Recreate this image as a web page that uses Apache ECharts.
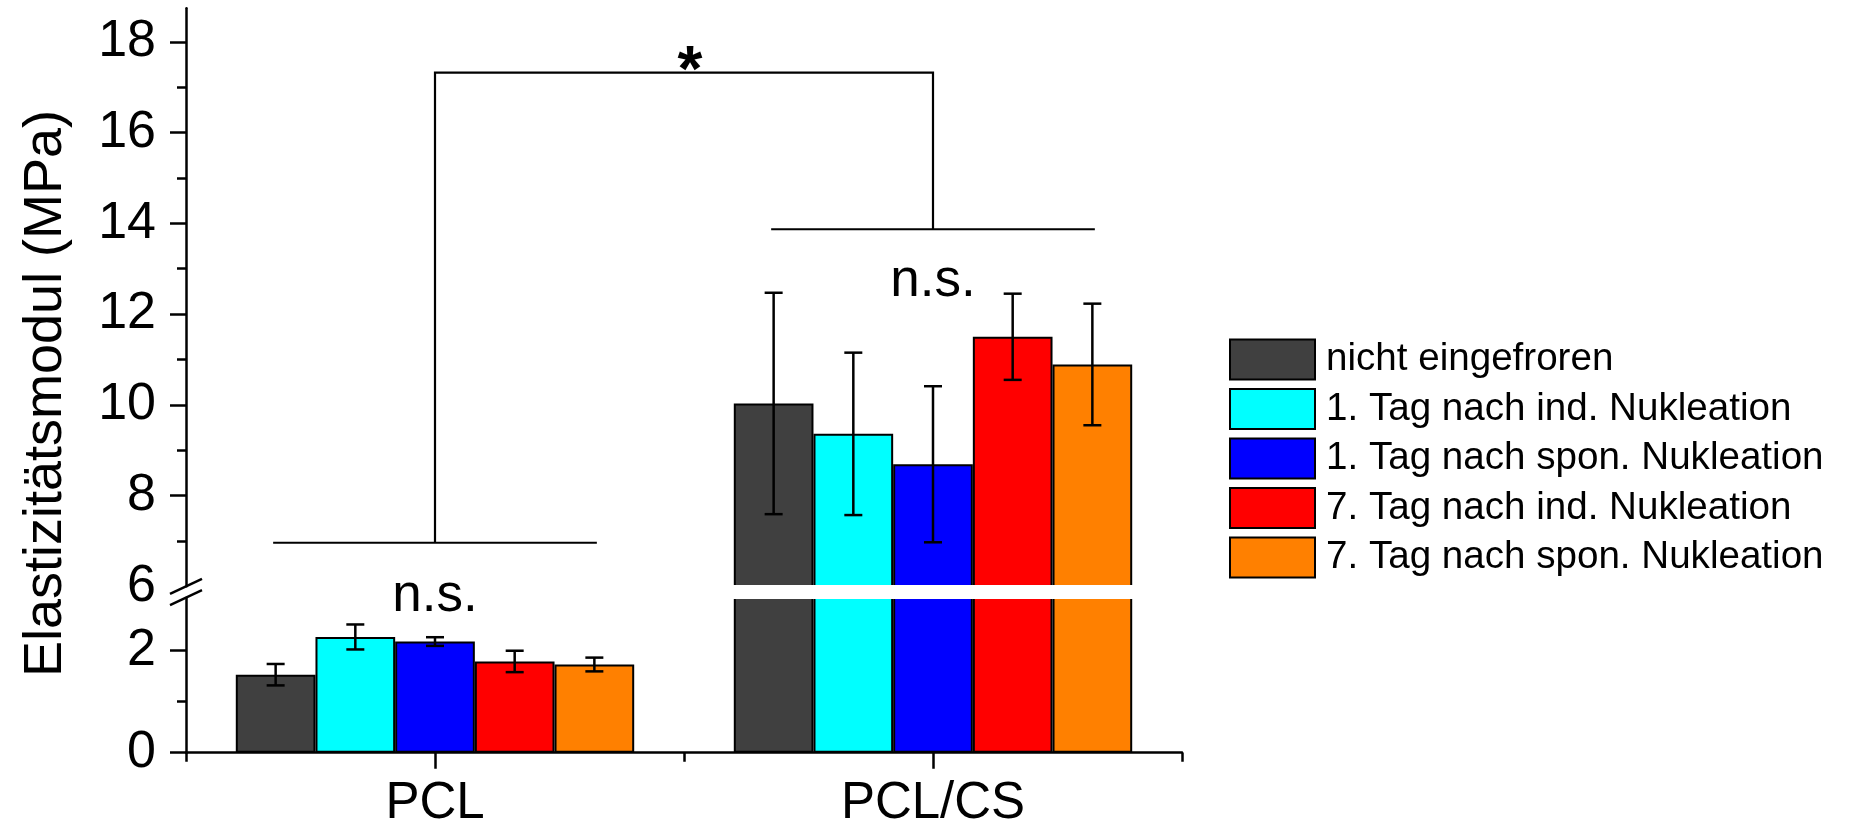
<!DOCTYPE html>
<html lang="de">
<head>
<meta charset="UTF-8">
<title>Elastizitätsmodul</title>
<script src="https://cdn.jsdelivr.net/npm/echarts@6/dist/echarts.min.js"></script>
<style>
  html, body { margin: 0; padding: 0; background: #fff; }
  #main { width: 1856px; height: 824px; }
</style>
</head>
<body>
<div id="main"></div>
<script>
// Kategorien und Gruppen
var categories = ['PCL', 'PCL/CS'];
var groupNames = ['nicht eingefroren', '1. Tag nach ind. Nukleation', '1. Tag nach spon. Nukleation',
                  '7. Tag nach ind. Nukleation', '7. Tag nach spon. Nukleation'];
var colors = ['#404040', '#00ffff', '#0000ff', '#ff0000', '#ff8000'];

// Mittelwerte (MPa), je [PCL, PCL/CS]
var meanNicht    = [1.53, 10.03];
var meanTag1Ind  = [2.27, 9.36];
var meanTag1Spon = [2.18, 8.69];
var meanTag7Ind  = [1.79, 11.50];
var meanTag7Spon = [1.73, 10.89];

// Standardabweichungen
var sdNicht    = [0.21, 2.44];
var sdTag1Ind  = [0.245, 1.79];
var sdTag1Spon = [0.085, 1.72];
var sdTag7Ind  = [0.21, 0.95];
var sdTag7Spon = [0.135, 1.34];

// Achsen (unterbrochen)
var upperTicks = [6, 8, 10, 12, 14, 16, 18];
var upperMajorTicks = [8, 10, 12, 14, 16, 18];
var upperMinor = [7, 9, 11, 13, 15, 17];
var lowerTicks = [0, 2];
var lowerMinor = [1];
var upperMin = 6, upperMax = 18.74;
var lowerMin = 0, lowerMax = 3.04;

// Signifikanzklammern (Werte auf der oberen Achse)
var bracketPCL = 6.96;
var bracketPCLCS = 13.87;
var bracketTop = 17.32;
var nsPCL = 3.06;       // untere Achse
var nsPCLCS = 12.72;    // obere Achse

var FONT = '"Liberation Sans", Arial, sans-serif';
var means = [meanNicht, meanTag1Ind, meanTag1Spon, meanTag7Ind, meanTag7Spon];
var sds = [sdNicht, sdTag1Ind, sdTag1Spon, sdTag7Ind, sdTag7Spon];

var chart = echarts.init(document.getElementById('main'));

function renderErr(params, api) {
  var c = api.value(0), s = api.value(1), lo = api.value(2), hi = api.value(3);
  var band = api.size([1, 0])[0];
  var bw = band * 0.8 / 5;
  var pLo = api.coord([c, lo]), pHi = api.coord([c, hi]);
  var r = params.coordSys;
  if (pHi[1] < r.y - 1 || pLo[1] > r.y + r.height + 1) return null;
  var x = pLo[0] + (s - 2) * bw;
  var half = 9;
  var st = { stroke: '#000', lineWidth: 2.5 };
  return {
    type: 'group',
    children: [
      { type: 'line', shape: { x1: x, y1: pLo[1], x2: x, y2: pHi[1] }, style: st },
      { type: 'line', shape: { x1: x - half, y1: pLo[1], x2: x + half, y2: pLo[1] }, style: st },
      { type: 'line', shape: { x1: x - half, y1: pHi[1], x2: x + half, y2: pHi[1] }, style: st }
    ]
  };
}

var series = [];
[0, 1].forEach(function (g) {
  var xi = g === 0 ? 0 : 1;
  var yi = g === 0 ? 0 : 2;
  means.forEach(function (m, i) {
    series.push({
      name: groupNames[i],
      type: 'bar',
      xAxisIndex: xi,
      yAxisIndex: yi,
      data: m,
      barGap: '0%',
      barCategoryGap: '20%',
      clip: true,
      itemStyle: { color: colors[i], borderColor: '#000', borderWidth: 2 },
      emphasis: { disabled: true }
    });
  });
  var errData = [];
  means.forEach(function (m, i) {
    m.forEach(function (v, c) {
      errData.push([c, i, v - sds[i][c], v + sds[i][c]]);
    });
  });
  series.push({
    type: 'custom',
    xAxisIndex: xi,
    yAxisIndex: yi,
    renderItem: renderErr,
    encode: { x: 0, y: [2, 3] },
    data: errData,
    z: 10,
    silent: true
  });
});

var tickLine = { color: '#000', width: 2.5 };

var option = {
  animation: false,
  backgroundColor: '#fff',
  grid: [
    { left: 186, top: 8.3, width: 996, height: 578, containLabel: false, outerBoundsMode: 'none' },
    { left: 186, top: 597.7, width: 996, height: 155, containLabel: false, outerBoundsMode: 'none' }
  ],
  legend: {
    data: groupNames,
    orient: 'vertical',
    left: 1229,
    top: 338.5,
    padding: 0,
    itemWidth: 85,
    itemHeight: 40,
    itemGap: 7.5,
    icon: 'rect',
    selectedMode: false,
    itemStyle: { borderColor: '#000', borderWidth: 2 },
    textStyle: { color: '#000', fontSize: 38.6, fontFamily: FONT, padding: [2, 0, 0, 6] }
  },
  xAxis: [
    { gridIndex: 0, type: 'category', data: categories, show: false },
    {
      gridIndex: 1, type: 'category', data: categories, position: 'bottom',
      axisLine: { show: true, onZero: false, lineStyle: tickLine },
      axisTick: { show: true, alignWithLabel: true, length: 16, lineStyle: tickLine },
      axisLabel: { margin: 26, color: '#000', fontSize: 51, fontFamily: FONT },
      splitLine: { show: false }
    },
    {
      gridIndex: 1, type: 'category', data: categories, position: 'bottom',
      axisLine: { show: false },
      axisTick: { show: true, length: 9, lineStyle: tickLine },
      axisLabel: { show: false },
      splitLine: { show: false }
    }
  ],
  yAxis: [
    {
      gridIndex: 0, type: 'value', position: 'left', min: upperMin, max: upperMax,
      axisLine: { show: true, onZero: false, lineStyle: tickLine },
      axisTick: { show: true, customValues: upperMajorTicks, length: 16, lineStyle: tickLine },
      axisLabel: { customValues: upperTicks, margin: 30, color: '#000', fontSize: 52, fontFamily: FONT },
      splitLine: { show: false }
    },
    {
      gridIndex: 0, type: 'value', position: 'left', offset: 0, min: upperMin, max: upperMax,
      axisLine: { show: false },
      axisTick: { show: true, customValues: upperMinor, length: 9, lineStyle: tickLine },
      axisLabel: { show: false },
      splitLine: { show: false }
    },
    {
      gridIndex: 1, type: 'value', position: 'left', min: lowerMin, max: lowerMax,
      axisLine: { show: true, onZero: false, lineStyle: tickLine },
      axisTick: { show: true, customValues: lowerTicks, length: 16, lineStyle: tickLine },
      axisLabel: { customValues: lowerTicks, margin: 30, color: '#000', fontSize: 52, fontFamily: FONT },
      splitLine: { show: false }
    },
    {
      gridIndex: 1, type: 'value', position: 'left', offset: 0, min: lowerMin, max: lowerMax,
      axisLine: { show: false },
      axisTick: { show: true, customValues: lowerMinor, length: 9, lineStyle: tickLine },
      axisLabel: { show: false },
      splitLine: { show: false }
    }
  ],
  series: series
};

chart.setOption(option);

// Anmerkungen (Klammern, Texte, Achsenbruch) an den Achsen ausrichten
function px(g, cat, val) {
  var finder = g === 0 ? { xAxisIndex: 0, yAxisIndex: 0 } : { xAxisIndex: 1, yAxisIndex: 2 };
  return chart.convertToPixel(finder, [cat, val]);
}

var xP = px(0, 'PCL', upperMin)[0];
var xC = px(0, 'PCL/CS', upperMin)[0];
var band = xC - xP;
var half = band * 0.325;
var bw = band * 0.8 / 5;
var axisX = xP - band / 2;
var yPB = px(0, 'PCL', bracketPCL)[1];
var yCB = px(0, 'PCL/CS', bracketPCLCS)[1];
var yTop = px(0, 'PCL', bracketTop)[1];
var y6 = px(0, 'PCL', upperMin)[1];
var yLowTop = px(1, 'PCL', lowerMax)[1];
var lineSt = { stroke: '#000', lineWidth: 2.2, fill: null };

var graphics = [
  { type: 'rect', z: 50, shape: { x: xC - 2.5 * bw - 3, y: y6 - 1.3, width: 5 * bw + 6, height: yLowTop - y6 + 2.6 },
    style: { fill: '#fff' } },
  { type: 'line', z: 60, shape: { x1: xP - half, y1: yPB, x2: xP + half, y2: yPB }, style: lineSt },
  { type: 'line', z: 60, shape: { x1: xC - half, y1: yCB, x2: xC + half, y2: yCB }, style: lineSt },
  { type: 'polyline', z: 60, shape: { points: [[xP, yPB], [xP, yTop], [xC, yTop], [xC, yCB]] }, style: lineSt },
  { type: 'text', z: 60, x: (xP + xC) / 2 + 6, y: yTop + 1,
    style: { text: '*', fill: '#000', fontSize: 64, fontWeight: 'bold', fontFamily: FONT, align: 'center', verticalAlign: 'middle' } },
  { type: 'text', z: 60, x: xP, y: px(1, 'PCL', nsPCL)[1],
    style: { text: 'n.s.', fill: '#000', fontSize: 53, fontFamily: FONT, align: 'center', verticalAlign: 'middle' } },
  { type: 'text', z: 60, x: xC, y: px(0, 'PCL/CS', nsPCLCS)[1],
    style: { text: 'n.s.', fill: '#000', fontSize: 53, fontFamily: FONT, align: 'center', verticalAlign: 'middle' } },
  { type: 'line', z: 60, shape: { x1: axisX - 16, y1: y6 + 7.5, x2: axisX + 16, y2: y6 - 7.5 }, style: { stroke: '#000', lineWidth: 2.5 } },
  { type: 'line', z: 60, shape: { x1: axisX - 16, y1: yLowTop + 7.5, x2: axisX + 16, y2: yLowTop - 7.5 }, style: { stroke: '#000', lineWidth: 2.5 } },
  { type: 'text', z: 60, x: 46, y: 393.5, rotation: Math.PI / 2,
    style: { text: 'Elastizitätsmodul (MPa)', fill: '#000', fontSize: 54, fontFamily: FONT, align: 'center', verticalAlign: 'middle' } }
];

chart.setOption({ graphic: graphics });
</script>
</body>
</html>
